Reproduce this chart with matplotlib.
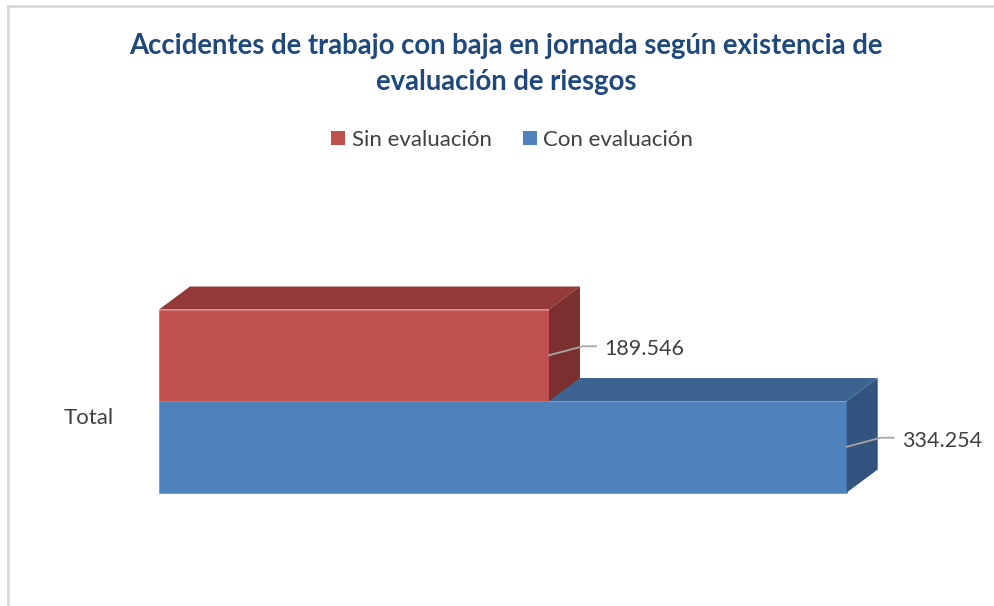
import matplotlib.pyplot as plt
from matplotlib.patches import Polygon, Patch
from matplotlib.lines import Line2D

plt.rcParams['font.family'] = ['Lato', 'DejaVu Sans']

titulo = ["Accidentes de trabajo con baja en jornada según existencia de",
          "evaluación de riesgos"]
categoria = "Total"
series = ["Sin evaluación", "Con evaluación"]
valores = [189546, 334254]
posiciones = [1, 0]
eje_max = 400000

col_frente = ["#C0504D", "#4F81BD"]
col_techo = ["#943A39", "#3D6490"]
col_lado = ["#7B2F2F", "#33547F"]
col_borde = ["#CD6F6C", "#7199CB"]

W, H = 994, 606
fig = plt.figure(figsize=(W / 100, H / 100), dpi=100)

# plot area laid out in pixels
px_l, px_r, px_t, px_b = 159, 982, 200, 560
ax = fig.add_axes([px_l / W, 1 - px_b / H, (px_r - px_l) / W, (px_b - px_t) / H])
ax.set_xlim(0, eje_max)
px_y = 91.5  # pixels per category unit
ax.set_ylim(0.5 - (px_b - 401) / px_y, 0.5 + (401 - px_t) / px_y)
ax.axis('off')

ux = eje_max / (px_r - px_l)   # data units per pixel, x
uy = 1.0 / px_y                # data units per pixel, y
prof_x, prof_y = 31 * ux, 23 * uy

# draw the back series (blue) first, then the red one over it
for i in [1, 0]:
    v, y = valores[i], posiciones[i]
    y0, y1 = y - 0.5, y + 0.5
    ax.barh(y, v, height=1.0, color=col_frente[i], edgecolor=col_borde[i],
            linewidth=0.6, zorder=2 + 3 * (1 - i))
    techo = Polygon([(0, y1), (v, y1), (v + prof_x, y1 + prof_y), (prof_x, y1 + prof_y)],
                    closed=True, facecolor=col_techo[i], edgecolor='none',
                    zorder=2 + 3 * (1 - i), clip_on=False)
    lado = Polygon([(v, y0), (v + prof_x, y0 + prof_y), (v + prof_x, y1 + prof_y), (v, y1)],
                   closed=True, facecolor=col_lado[i], edgecolor='none',
                   zorder=3 + 3 * (1 - i), clip_on=False)
    ax.add_patch(techo)
    ax.add_patch(lado)

# data labels with leader lines
for i in range(2):
    v, y = valores[i], posiciones[i]
    xs = [v, v + 34 * ux, v + 47 * ux]
    ys = [y, y + 9 * uy, y + 9 * uy]
    ax.plot(xs, ys, color="#A6A6A6", lw=1.3, zorder=10, clip_on=False)
    texto = f"{v:,}".replace(",", ".")
    ax.text(v + 55 * ux, y + 6 * uy, texto, ha='left', va='center',
            fontsize=15.5, color="#404040", zorder=10, clip_on=False)

fig.text(89 / W, 1 - 418 / H, categoria, ha='center', va='center',
         fontsize=16, color="#404040")

for linea, base in zip(titulo, [54, 90]):
    fig.text(506 / W, 1 - base / H, linea, ha='center', va='baseline', fontsize=19.8,
             fontweight='bold', color="#1F497D")

manejadores = [Patch(facecolor=col_frente[i], label=series[i]) for i in range(2)]
fig.legend(handles=manejadores, loc='center', bbox_to_anchor=(512 / W, 1 - 140 / H),
           ncol=2, frameon=False, fontsize=16, handlelength=0.63, handleheight=0.63,
           handletextpad=0.3, columnspacing=1.4, labelcolor="#404040")

# chart frame
gris = "#D9D9D9"
fig.add_artist(Line2D([8 / W, 8 / W], [0, 1 - 6 / H], color=gris, lw=2))
fig.add_artist(Line2D([8 / W, 1], [1 - 6 / H, 1 - 6 / H], color=gris, lw=2))

fig.savefig("out.png", dpi=100)
